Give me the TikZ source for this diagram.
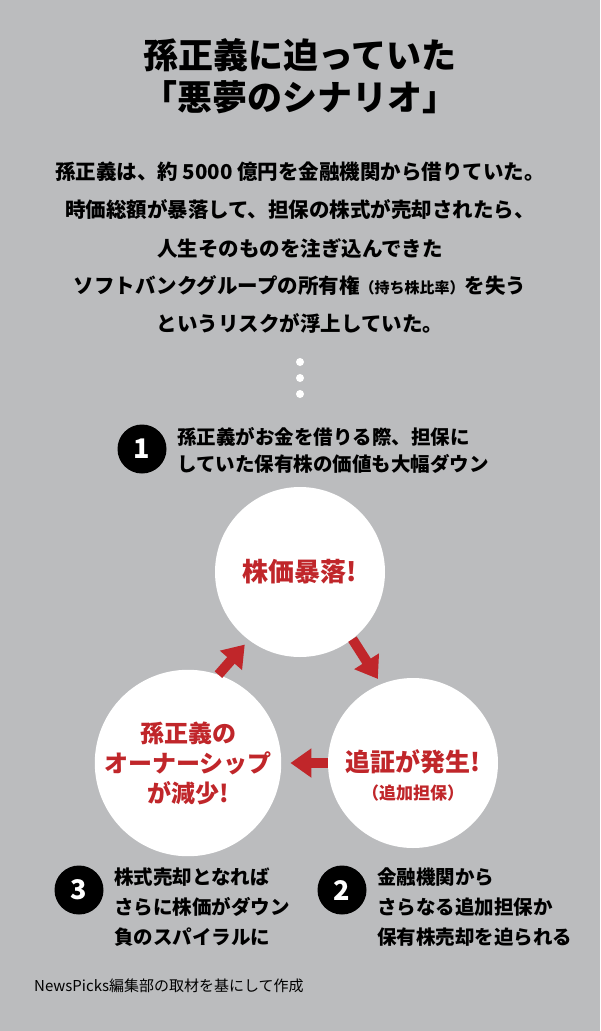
\documentclass[tikz,border=0pt]{standalone}
\usepackage{fontspec}
\setmainfont{Noto Sans CJK JP}
\usetikzlibrary{arrows.meta}
\definecolor{bg}{RGB}{187,188,190}
\definecolor{npred}{RGB}{192,38,42}
\newcommand{\fs}[1]{\fontsize{#1pt}{#1pt}\selectfont}
\begin{document}
\begin{tikzpicture}[x=1pt,y=-1pt,
  title/.style={font=\bfseries\fs{35}, inner sep=0pt},
  body/.style={font=\bfseries\fs{20.5}, inner sep=0pt},
  item/.style={font=\bfseries\fs{19.5}, inner sep=0pt, anchor=west},
  numdot/.style={circle, fill=black, text=white, minimum size=49pt, inner sep=0pt, font=\bfseries\fs{27}},
  bubble/.style={circle, fill=white, minimum size=170pt, inner sep=0pt, text=npred, align=center},
  dot/.style={circle, fill=white, minimum size=8pt, inner sep=0pt},
  redarrow/.style={draw=npred, line width=10pt, -{Triangle[length=21pt,width=28pt]}, npred}
]
\fill[bg] (0,0) rectangle (600,1031);
\useasboundingbox (0,0) rectangle (600,1031);

% title
\node[title] (t1) at (300,55) {孫正義に迫っていた};
\node[title] (t2) at (300,97) {「悪夢のシナリオ」};

% body
\node[body] (b1) at (300,172) {孫正義は、約 5000 億円を金融機関から借りていた。};
\node[body] (b2) at (300,210) {時価総額が暴落して、担保の株式が売却されたら、};
\node[body] (b3) at (300,248) {人生そのものを注ぎ込んできた};
\node[body] (b4) at (300,286) {ソフトバンクグループの所有権{\fs{15}（持ち株比率）}を失う};
\node[body] (b5) at (300,323) {というリスクが浮上していた。};

% dots
\node[dot] (d1) at (300,362) {};
\node[dot] (d2) at (300,378) {};
\node[dot] (d3) at (300,394) {};

% item 1
\node[numdot] (n1) at (142,449) {1};
\node[item] (i1a) at (177,437) {孫正義がお金を借りる際、担保に};
\node[item] (i1b) at (177,464) {していた保有株の価値も大幅ダウン};

% circles
\node[bubble, font=\bfseries\fs{26}] (crash) at (300,572) {株価暴落!};
\node[bubble] (margin) at (413,763) {};
\node[text=npred, align=center, inner sep=0pt] (margintxt) at (413,775) {{\bfseries\fs{25}追証が発生!}\\[10pt]{\bfseries\fs{17}（追加担保）}};
\node[bubble, font=\bfseries\fs{24}] (owner) at (188,763) {孫正義の\\[6pt]オーナーシップ\\[6pt]が減少!};

% arrows
\draw[redarrow, shorten >=6pt] (crash.308) -- (margin.112);
\draw[redarrow, shorten >=9pt] (margin.180) -- (owner.0);
\draw[redarrow, shorten >=6pt] (owner.71) -- (crash.233);

% items 3 and 2
\node[numdot] (n3) at (79,890) {3};
\node[item] (i3a) at (114,877) {株式売却となれば};
\node[item] (i3b) at (114,907) {さらに株価がダウン};
\node[item] (i3c) at (114,937) {負のスパイラルに};

\node[numdot] (n2) at (342,890) {2};
\node[item] (i2a) at (377,877) {金融機関から};
\node[item] (i2b) at (377,907) {さらなる追加担保か};
\node[item] (i2c) at (377,937) {保有株売却を迫られる};

% footer
\node[font=\fs{15}, inner sep=0pt, anchor=west] (src) at (34,986) {NewsPicks編集部の取材を基にして作成};
\end{tikzpicture}
\end{document}
